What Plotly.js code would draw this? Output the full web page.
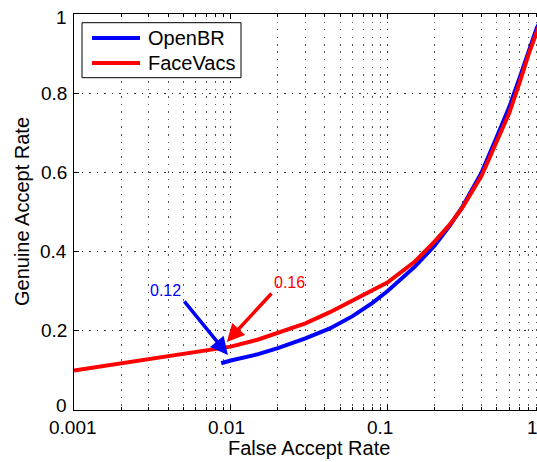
<!DOCTYPE html>
<html>
<head>
<meta charset="utf-8">
<script src="https://cdn.plot.ly/plotly-3.0.1.min.js"></script>
<style>
html, body { margin: 0; padding: 0; width: 537px; height: 462px; overflow: hidden; background: #fff; }
#chart { width: 560px; height: 462px; }
</style>
</head>
<body>
<div id="chart"></div>
<script>
// ---- data ----
var seriesNames = ["OpenBR", "FaceVacs"];
var seriesColors = ["#0000ff", "#ff0000"];

var farOpenBR = [0.0087, 0.01, 0.015, 0.02, 0.03, 0.043, 0.06, 0.08, 0.1, 0.15, 0.2, 0.25, 0.3, 0.4, 0.5, 0.6, 0.7, 0.8, 0.9, 1.0];
var garOpenBR = [0.118, 0.125, 0.141, 0.156, 0.181, 0.206, 0.237, 0.270, 0.300, 0.362, 0.415, 0.465, 0.512, 0.600, 0.690, 0.765, 0.840, 0.910, 0.965, 1.0];

var farFaceVacs = [0.001, 0.01, 0.015, 0.02, 0.03, 0.043, 0.06, 0.08, 0.1, 0.15, 0.2, 0.25, 0.3, 0.4, 0.5, 0.6, 0.7, 0.8, 0.9, 1.0];
var garFaceVacs = [0.100, 0.160, 0.178, 0.196, 0.219, 0.247, 0.276, 0.302, 0.322, 0.375, 0.425, 0.468, 0.510, 0.592, 0.680, 0.750, 0.828, 0.900, 0.955, 1.0];

var xTickVals = [0.001, 0.01, 0.1, 1];
var xTickText = ["0.001", "0.01", "0.1", "1"];
var yTickVals = [0, 0.2, 0.4, 0.6, 0.8, 1];
var yTickText = ["0", "0.2", "0.4", "0.6", "0.8", "1"];

// callouts: label, arrow head (FAR, GAR), arrow tail (FAR, GAR), label position (FAR, GAR)
var calloutText = ["0.12", "0.16"];
var calloutHeadFar = [0.0096, 0.00945];
var calloutHeadGar = [0.139, 0.172];
var calloutTailFar = [0.00497, 0.0186];
var calloutTailGar = [0.278, 0.298];
var calloutLabelFar = [0.00386, 0.0239];
var calloutLabelGar = [0.303, 0.323];

var xTitle = "False Accept Rate";
var yTitle = "Genuine Accept Rate";

// ---- chart ----
var FONT = "Liberation Sans, Arial, Helvetica, sans-serif";
var PLOT_L = 74, PLOT_R = 544, PLOT_T = 14, PLOT_B = 410;
function px2paperX(px) { return (px - PLOT_L) / (PLOT_R - PLOT_L); }
function px2paperY(py) { return (PLOT_B - py) / (PLOT_B - PLOT_T); }

var traces = [
  {x: farOpenBR, y: garOpenBR, name: seriesNames[0], type: "scatter", mode: "lines",
   line: {color: seriesColors[0], width: 4}},
  {x: farFaceVacs, y: garFaceVacs, name: seriesNames[1], type: "scatter", mode: "lines",
   line: {color: seriesColors[1], width: 4}}
];

var annotations = [];
var shapes = [];
for (var i = 0; i < calloutText.length; i++) {
  annotations.push({
    x: Math.log10(calloutHeadFar[i]), y: calloutHeadGar[i], xref: "x", yref: "y",
    ax: Math.log10(calloutTailFar[i]), ay: calloutTailGar[i], axref: "x", ayref: "y",
    text: "", showarrow: true, arrowhead: 2, arrowsize: 1.0, arrowwidth: 3.5,
    arrowcolor: seriesColors[i], standoff: 0, startstandoff: 0
  });
  annotations.push({
    x: Math.log10(calloutLabelFar[i]), y: calloutLabelGar[i], xref: "x", yref: "y",
    text: calloutText[i], showarrow: false, xanchor: "center", yanchor: "middle",
    font: {family: FONT, size: 16, color: seriesColors[i]}
  });
}
// x tick labels (MATLAB export places them slightly left of their ticks)
var xLabelPx = [72.5, 226.5, 379.5, 532];
for (var k = 0; k < xTickText.length; k++) {
  annotations.push({
    x: px2paperX(xLabelPx[k]), y: 0, xref: "paper", yref: "paper", yanchor: "top", xanchor: "center",
    yshift: -5, text: xTickText[k], showarrow: false, font: {family: FONT, size: 19, color: "#000"}
  });
}
// y tick labels (end labels sit slightly inward, as in the reference)
var yLabelShift = [5, 0, 0, 0, 0, -3];
for (var m = 0; m < yTickText.length; m++) {
  annotations.push({
    x: px2paperX(69), y: yTickVals[m], xref: "paper", yref: "y", xanchor: "right", yanchor: "middle",
    yshift: yLabelShift[m], text: yTickText[m], showarrow: false,
    font: {family: FONT, size: 19, color: "#000"}
  });
}
annotations.push({
  x: px2paperX(308.5), y: px2paperY(448), xref: "paper", yref: "paper", xanchor: "center", yanchor: "middle",
  text: xTitle, showarrow: false, font: {family: FONT, size: 20, color: "#000"}
});
annotations.push({
  x: px2paperX(22), y: 0.5, xref: "paper", yref: "paper", xanchor: "center", yanchor: "middle",
  text: yTitle, textangle: -90, showarrow: false, font: {family: FONT, size: 20, color: "#000"}
});

// legend box drawn in the MATLAB style
shapes.push({type: "rect", xref: "paper", yref: "paper", layer: "above",
  x0: px2paperX(82), x1: px2paperX(241), y0: px2paperY(77.7), y1: px2paperY(22.7),
  line: {color: "#000", width: 1}, fillcolor: "#fff"});
var legendRowPy = [38, 63];
for (var j = 0; j < seriesNames.length; j++) {
  shapes.push({type: "line", xref: "paper", yref: "paper", layer: "above",
    x0: px2paperX(92), x1: px2paperX(140), y0: px2paperY(legendRowPy[j]), y1: px2paperY(legendRowPy[j]),
    line: {color: seriesColors[j], width: 4}});
  annotations.push({x: px2paperX(146), y: px2paperY(legendRowPy[j]), xref: "paper", yref: "paper",
    xanchor: "left", yanchor: "middle", text: seriesNames[j], showarrow: false,
    font: {family: FONT, size: 20, color: "#000"}});
}

var gridDash = "1.5px,6px";
var layout = {
  width: 560, height: 462,
  margin: {l: PLOT_L, r: 560 - PLOT_R, t: PLOT_T, b: 462 - PLOT_B},
  paper_bgcolor: "#fff", plot_bgcolor: "#fff",
  font: {family: FONT, size: 19, color: "#000"},
  showlegend: false,
  xaxis: {
    type: "log", range: [Math.log10(xTickVals[0]), Math.log10(xTickVals[3])],
    tickvals: xTickVals, ticktext: xTickText, showticklabels: false,
    ticks: "inside", ticklen: 5, tickcolor: "#000", tickwidth: 1,
    showline: true, linecolor: "#000", linewidth: 1, mirror: "ticks",
    showgrid: true, gridcolor: "#333", gridwidth: 1, griddash: gridDash,
    zeroline: false,
    minor: {dtick: "D1", ticks: "inside", ticklen: 3, tickcolor: "#000",
            showgrid: true, gridcolor: "#555", gridwidth: 1, griddash: gridDash}
  },
  yaxis: {
    range: [0, 1], tickvals: yTickVals, ticktext: yTickText, showticklabels: false,
    ticks: "inside", ticklen: 5, tickcolor: "#000", tickwidth: 1,
    showline: true, linecolor: "#000", linewidth: 1, mirror: "ticks",
    showgrid: true, gridcolor: "#333", gridwidth: 1, griddash: gridDash,
    zeroline: false
  },
  shapes: shapes,
  annotations: annotations
};

Plotly.newPlot("chart", traces, layout, {displayModeBar: false, staticPlot: true});
</script>
</body>
</html>
